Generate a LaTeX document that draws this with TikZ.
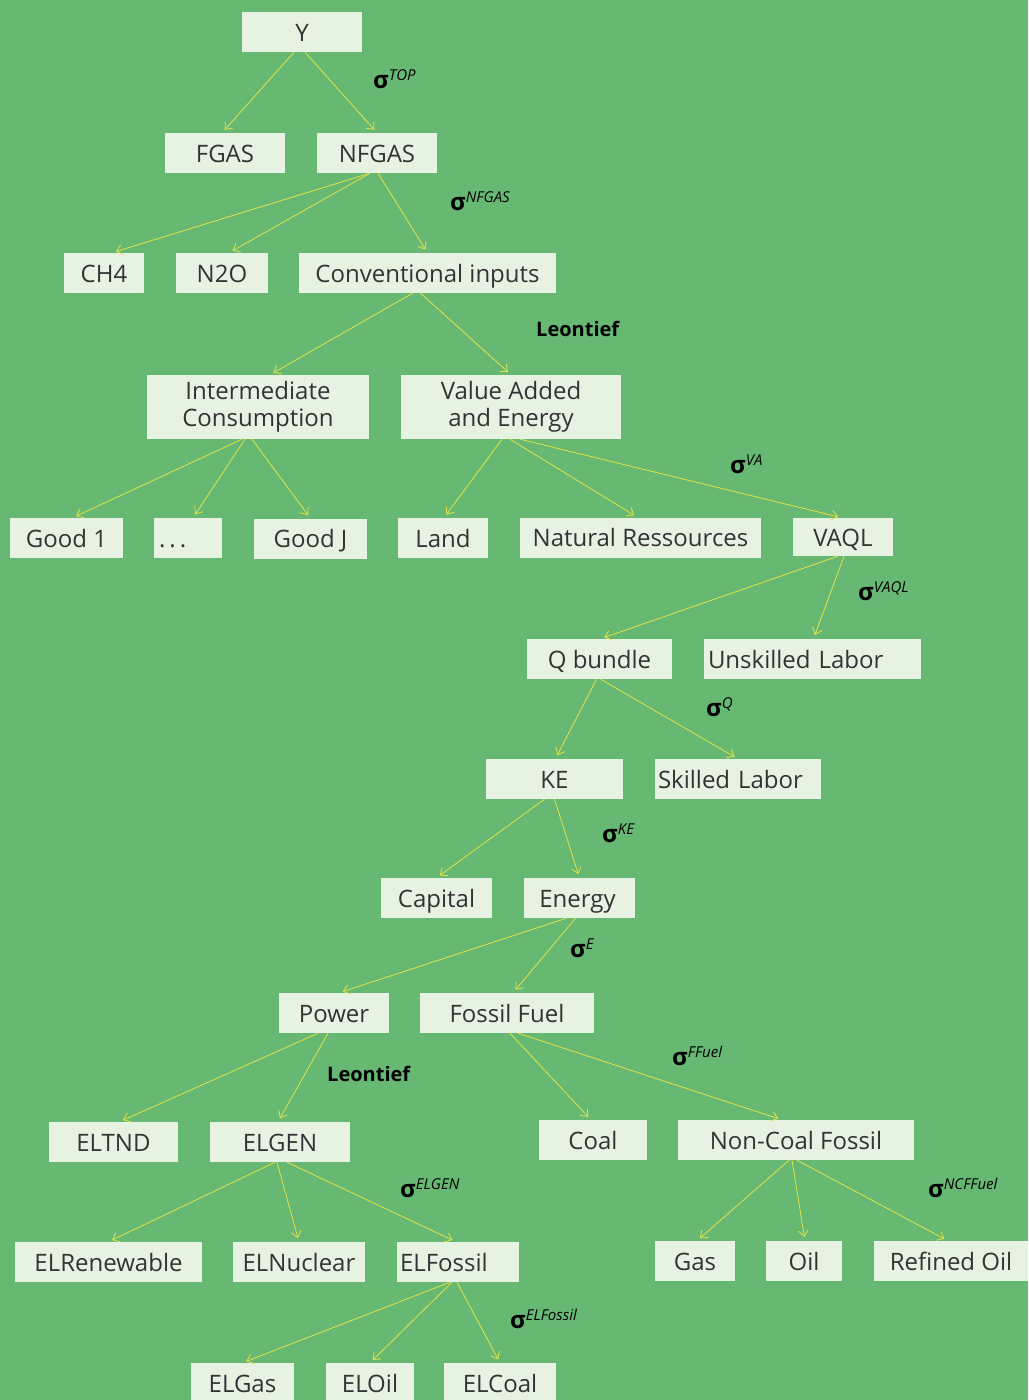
\documentclass[tikz,border=0pt]{standalone}
\usepackage{fontspec}
\setmainfont{Open Sans}
\usetikzlibrary{arrows.meta}
\definecolor{bggreen}{HTML}{67B873}
\definecolor{boxfill}{HTML}{E6F2E2}
\definecolor{arrowyellow}{HTML}{E3E34A}
\definecolor{boxtext}{HTML}{333333}
\newcommand{\sig}[1]{{\fontsize{24}{24}\selectfont\bfseries σ}\raisebox{8pt}{\fontsize{15}{15}\selectfont\itshape #1}}
\tikzset{
  mbox/.style={rectangle, fill=boxfill, text=boxtext, inner sep=0pt,
    minimum height=40pt, font=\fontsize{24}{27}\selectfont, align=center},
  box/.style={mbox, text height=21pt, text depth=3pt},
  lbox/.style={box, text width=#1, align=left},
  arr/.style={draw=arrowyellow, line width=0.8pt,
    -{Straight Barb[length=6pt,width=10pt]}, shorten >=4pt},
  sigma/.style={anchor=base west, inner sep=0pt, text=black},
  leon/.style={anchor=base west, inner sep=0pt, text=black,
    font=\fontsize{20}{22}\selectfont\bfseries}
}
\begin{document}
\begin{tikzpicture}[x=1pt, y=-1pt]
  \fill[bggreen] (0,0) rectangle (1028,1400);
  \useasboundingbox (0,0) rectangle (1028,1400);

  % tree boxes
  \node [box, minimum width=120pt] (Y) at (302,32) {Y};
  \node [box, minimum width=120pt] (FGAS) at (225,153) {FGAS};
  \node [box, minimum width=120pt] (NFGAS) at (377,153) {NFGAS};
  \node [box, minimum width=80pt] (CH4) at (104,273) {CH4};
  \node [box, minimum width=92pt] (N2O) at (222,273) {N2O};
  \node [box, minimum width=257pt] (Conv) at (427.5,273) {Conventional inputs};
  \node [mbox, minimum width=222pt, minimum height=64pt] (IC) at (258,407)
    {Intermediate\\Consumption};
  \node [mbox, minimum width=220pt, minimum height=64pt] (VA) at (511,407)
    {Value Added\\and Energy};
  \node [box, minimum width=113pt] (Good1) at (66.5,538) {Good 1};
  \node [lbox=58pt, minimum width=68pt] (Dots) at (188,538) {.\hspace{4pt}.\hspace{4pt}.};
  \node [box, minimum width=113pt] (GoodJ) at (310.5,538.5) {Good J};
  \node [box, minimum width=90pt] (Land) at (443,538) {Land};
  \node [box, minimum width=241pt] (NatRes) at (640.5,537.5) {Natural Ressources};
  \node [box, minimum width=100pt, minimum height=38pt] (VAQL) at (843,537) {VAQL};
  \node [box, minimum width=145pt] (QB) at (599.5,659) {Q bundle};
  \node [lbox=209pt, minimum width=217pt] (Unskilled) at (812.5,659) {Unskilled Labor};
  \node [box, minimum width=137pt] (KE) at (554.5,779) {KE};
  \node [lbox=160pt, minimum width=166pt] (Skilled) at (738,779) {Skilled Labor};
  \node [box, minimum width=111pt] (Capital) at (436.5,898) {Capital};
  \node [box, minimum width=111pt] (Energy) at (579.5,898) {Energy\,};
  \node [box, minimum width=110pt] (Power) at (334,1013) {Power};
  \node [box, minimum width=174pt] (FFuel) at (507,1013) {Fossil Fuel};
  \node [box, minimum width=129pt] (ELTND) at (113.5,1142) {ELTND};
  \node [box, minimum width=140pt] (ELGEN) at (280,1142) {ELGEN};
  \node [box, minimum width=108pt] (Coal) at (593,1140) {Coal};
  \node [box, minimum width=236pt] (NCF) at (796,1140) {Non-Coal Fossil};
  \node [box, minimum width=187pt] (ELRen) at (108.5,1262) {ELRenewable};
  \node [box, minimum width=132pt] (ELNuc) at (299,1262) {ELNuclear};
  \node [lbox=116pt, minimum width=122pt] (ELFossil) at (458,1262) {ELFossil};
  \node [box, minimum width=80pt] (Gas) at (695,1261) {Gas};
  \node [box, minimum width=76pt] (Oil) at (804,1261) {Oil};
  \node [box, minimum width=154pt] (Refined) at (951,1261) {Refined Oil};
  \node [box, minimum width=103pt] (ELGas) at (242.5,1383) {ELGas};
  \node [box, minimum width=88pt] (ELOil) at (370,1383) {ELOil};
  \node [box, minimum width=112pt] (ELCoal) at (500,1383) {ELCoal};

  % connectors: parent/shift/child/shift
  \foreach \p/\dp/\c/\dc in {
      Y/-8/FGAS/-3, Y/3/NFGAS/0,
      NFGAS/-7/CH4/8, NFGAS/-7/N2O/7, NFGAS/1/Conv/0,
      Conv/-15/IC/12, Conv/-7/VA/0,
      IC/-16/Good1/6, IC/-13/Dots/5, IC/-6/GoodJ/0,
      VA/-9/Land/1, VA/-1/NatRes/-3, VA/9/VAQL/-1,
      VAQL/-5/QB/1, VAQL/1/Unskilled/1,
      QB/-3/KE/1, QB/1/Skilled/0,
      KE/-10/Capital/0, KE/0/Energy/0,
      Energy/-13/Power/5, Energy/-4/FFuel/6,
      Power/-16/ELTND/6, Power/-6/ELGEN/-2,
      FFuel/3/Coal/-2, FFuel/11/NCF/-14,
      ELGEN/-5/ELRen/0, ELGEN/-3/ELNuc/0, ELGEN/7/ELFossil/-2,
      NCF/-7/Gas/2, NCF/-4/Oil/1, NCF/1/Refined/-3,
      ELFossil/-8/ELGas/0, ELFossil/-6/ELOil/0, ELFossil/-1/ELCoal/0}
    \draw [arr] ([xshift=\dp pt]\p.south) -- ([xshift=\dc pt]\c.north);

  % elasticities
  \node [sigma] (sTOP) at (373,88) {\sig{TOP}};
  \node [sigma] (sNFGAS) at (450,210) {\sig{NFGAS}};
  \node [leon] (leon1) at (536,336) {Leontief};
  \node [sigma] (sVA) at (730,473) {\sig{VA}};
  \node [sigma] (sVAQL) at (858,600) {\sig{VAQL}};
  \node [sigma] (sQ) at (706,716) {\sig{Q}};
  \node [sigma] (sKE) at (602,842) {\sig{KE}};
  \node [sigma] (sE) at (570,957) {\sig{E}};
  \node [sigma] (sFFuel) at (672,1065) {\sig{FFuel}};
  \node [leon] (leon2) at (327,1081) {Leontief};
  \node [sigma] (sELGEN) at (400,1197) {\sig{ELGEN}};
  \node [sigma] (sNCF) at (928,1197) {\sig{NCFFuel}};
  \node [sigma] (sELFossil) at (510,1328) {\sig{ELFossil}};
\end{tikzpicture}
\end{document}
